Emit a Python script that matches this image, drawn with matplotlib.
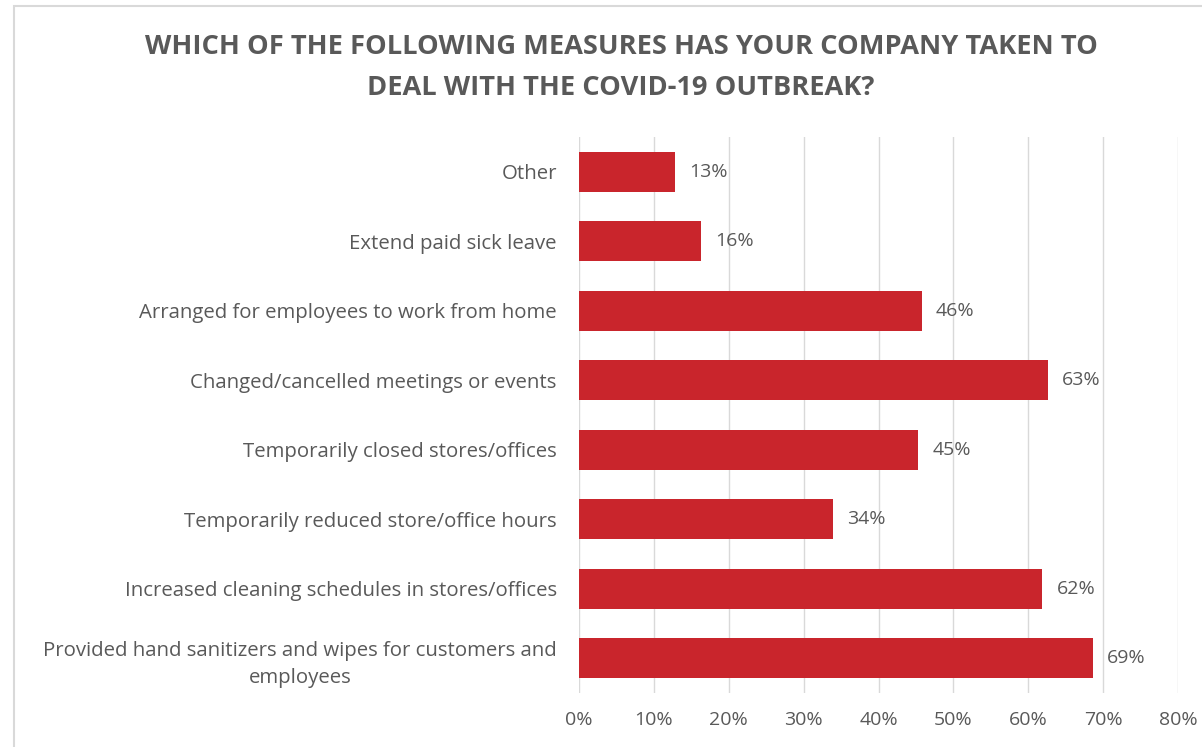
import matplotlib.pyplot as plt
import matplotlib.patches as mpatches
from matplotlib.ticker import FuncFormatter

# data, top to bottom as in the chart
measures = ["Other",
            "Extend paid sick leave",
            "Arranged for employees to work from home",
            "Changed/cancelled meetings or events",
            "Temporarily closed stores/offices",
            "Temporarily reduced store/office hours",
            "Increased cleaning schedules in stores/offices",
            "Provided hand sanitizers and wipes for customers and\nemployees"]
shares = [12.8, 16.3, 45.8, 62.6, 45.3, 33.9, 61.9, 68.6]
xticks = [0, 10, 20, 30, 40, 50, 60, 70, 80]

bar_color = "#C9252C"
text_color = "#595959"
grid_color = "#D9D9D9"

plt.rcParams['font.family'] = ['Open Sans', 'DejaVu Sans']

fig = plt.figure(figsize=(12.02, 7.47), dpi=100)
ax = fig.add_axes([579/1202, 1 - 693/747, (1178 - 579)/1202, (693 - 137)/747])

ypos = list(range(len(measures)))
ax.barh(ypos, shares, height=0.58, color=bar_color, zorder=2)
ax.set_ylim(len(measures) - 0.5, -0.5)
ax.set_xlim(0, 80)
ax.set_xticks(xticks)
ax.xaxis.set_major_formatter(FuncFormatter(lambda v, p: "%d%%" % v))
ax.set_yticks(ypos)
ax.set_yticklabels(measures, multialignment='center', linespacing=1.5,
                   fontsize=14.7)
ax.tick_params(axis='both', length=0, colors=text_color)
ax.tick_params(axis='x', labelsize=14, pad=13)
ax.tick_params(axis='y', pad=16)
ax.grid(axis='x', color=grid_color, linewidth=1, zorder=0)
for s in ax.spines.values():
    s.set_visible(False)

for y, v in zip(ypos, shares):
    ax.annotate("%d%%" % round(v), (v, y), xytext=(14, 0),
                textcoords='offset pixels', va='center', ha='left',
                color=text_color, fontsize=14)

fig.text(621/1202, 1 - 47/747, "WHICH OF THE FOLLOWING MEASURES HAS YOUR COMPANY TAKEN TO",
         ha='center', va='center', fontsize=19.6, fontweight='bold', color=text_color)
fig.text(621/1202, 1 - 88/747, "DEAL WITH THE COVID-19 OUTBREAK?",
         ha='center', va='center', fontsize=19.6, fontweight='bold', color=text_color)

# chart border (cut off at right and bottom)
border = mpatches.Rectangle((14/1202, -0.1), 1.2, 1 - 6/747 + 0.1,
                            transform=fig.transFigure, fill=False,
                            edgecolor=grid_color, linewidth=1.5)
fig.patches.append(border)

fig.savefig("out.png", dpi=100)
